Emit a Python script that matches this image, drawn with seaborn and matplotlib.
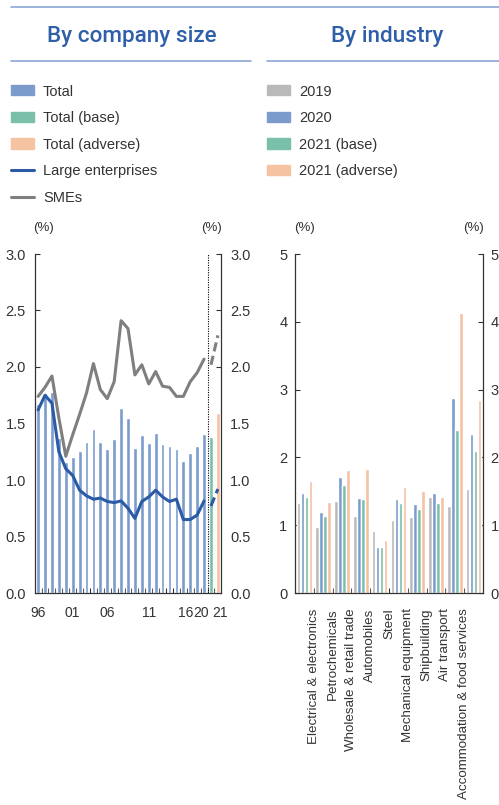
import numpy as np
import pandas as pd
import matplotlib
matplotlib.use("Agg")
import matplotlib.pyplot as plt
import seaborn as sns
from matplotlib.patches import Patch
from matplotlib.lines import Line2D

sns.set_style("ticks")
plt.rcParams["font.family"] = ["Liberation Sans", "DejaVu Sans"]

# ---- data: by company size ----
years = ["96", "97", "98", "99", "00", "01", "02", "03", "04", "05", "06", "07", "08",
         "09", "10", "11", "12", "13", "14", "15", "16", "17", "18", "19", "20"]
total = [1.67, 1.77, 1.78, 1.37, 1.16, 1.20, 1.26, 1.34, 1.45, 1.34, 1.27, 1.36, 1.64,
         1.55, 1.28, 1.40, 1.33, 1.42, 1.32, 1.30, 1.27, 1.17, 1.24, 1.30, 1.41]
total_base = 1.38
total_adverse = 1.59
large = [1.62, 1.75, 1.68, 1.25, 1.10, 1.04, 0.91, 0.86, 0.83, 0.84, 0.81, 0.80, 0.815,
         0.75, 0.66, 0.81, 0.85, 0.91, 0.85, 0.81, 0.83, 0.65, 0.65, 0.69, 0.815]
smes = [1.74, 1.82, 1.92, 1.55, 1.21, 1.40, 1.58, 1.77, 2.03, 1.80, 1.72, 1.87, 2.41,
        2.34, 1.93, 2.02, 1.85, 1.96, 1.83, 1.82, 1.74, 1.74, 1.87, 1.95, 2.07]
large_2021 = [0.77, 0.92]   # base, adverse
smes_2021 = [2.02, 2.28]
size_ticklabels = ["96", "01", "06", "11", "16", "20", "21"]

# ---- data: by industry ----
industry_labels = ["Electrical & electronics", "Petrochemicals", "Wholesale & retail trade",
                   "Automobiles", "Steel", "Mechanical equipment", "Shipbuilding",
                   "Air transport", "Accommodation & food services"]
ind_2019 = [1.33, 0.98, 1.35, 1.13, 0.92, 1.08, 1.12, 1.41, 1.29, 1.54]
ind_2020 = [1.48, 1.19, 1.71, 1.40, 0.68, 1.39, 1.31, 1.48, 2.88, 2.35]
ind_2021_base = [1.41, 1.14, 1.60, 1.38, 0.68, 1.33, 1.24, 1.33, 2.40, 2.10]
ind_2021_adverse = [1.65, 1.34, 1.81, 1.83, 0.78, 1.57, 1.50, 1.41, 4.13, 2.85]
ind_series = ["2019", "2020", "2021 (base)", "2021 (adverse)"]

c_blue = "#7b9bcd"
c_green = "#79bfa9"
c_orange = "#f5c2a2"
c_gray = "#b9b9b9"
c_line_blue = "#2b5ba6"
c_line_gray = "#7f7f7f"
c_title = "#2f5fa9"
c_rule = "#8ca8d6"
c_text = "#333333"

fig = plt.figure(figsize=(4.99, 8.05), dpi=100)
W, H = 499, 805

def fx(px):
    return px / W

def fy(py):
    return 1 - py / H

# ---- left chart ----
axL = fig.add_axes([fx(35), fy(593), fx(221) - fx(35), fy(254) - fy(593)])
n = len(years)
left_df = pd.DataFrame({
    "pos": np.arange(n + 2),
    "value": total + [total_base, total_adverse],
    "series": ["Total"] * n + ["Total (base)", "Total (adverse)"],
})
sns.barplot(data=left_df, x="pos", y="value", hue="series", dodge=False, native_scale=True,
            palette={"Total": c_blue, "Total (base)": c_green, "Total (adverse)": c_orange},
            width=0.55, saturation=1, legend=False, ax=axL)
sns.lineplot(x=np.arange(n), y=smes, color=c_line_gray, lw=2.2, ax=axL)
sns.lineplot(x=np.arange(n), y=large, color=c_line_blue, lw=2.2, ax=axL)
sns.lineplot(x=[n, n + 1], y=smes_2021, color=c_line_gray, lw=2.2, ax=axL)
axL.lines[-1].set_linestyle((0, (3, 1.5)))
sns.lineplot(x=[n, n + 1], y=large_2021, color=c_line_blue, lw=2.2, ax=axL)
axL.lines[-1].set_linestyle((0, (3, 1.5)))
axL.axvline(n - 0.4, color="black", ls=(0, (1, 1.2)), lw=0.8)

axL.set_xlim(-0.45, n + 1.45)
axL.set_ylim(0, 3)
axL.set_yticks(np.arange(0, 3.01, 0.5))
axL.set_yticklabels([f"{v:.1f}" for v in np.arange(0, 3.01, 0.5)])
axL.set_xticks([0, 5, 10, 16, 21.4, 23.6, 26.3])
axL.set_xticklabels(size_ticklabels)
axL.set_xticks(np.arange(0.5, n + 1, 1), minor=True)
axL.tick_params(axis="x", which="major", length=0, pad=9.5, labelsize=10, colors=c_text)
axL.tick_params(axis="x", which="minor", direction="in", length=3.5, width=0.8, color=c_text)
axL.tick_params(axis="y", direction="in", length=3.5, width=0.8, pad=6.5, labelsize=10.5,
                right=True, labelright=True, colors=c_text)
axL.set_xlabel("")
axL.set_ylabel("")
axL.spines["top"].set_visible(False)
for s in ["left", "right", "bottom"]:
    axL.spines[s].set_color(c_text)
    axL.spines[s].set_linewidth(0.9)

# ---- right chart ----
axR = fig.add_axes([fx(295), fy(593), fx(483) - fx(295), fy(254) - fy(593)])
ind_df = pd.DataFrame({
    "group": np.tile(np.arange(len(ind_2019)), 4),
    "value": ind_2019 + ind_2020 + ind_2021_base + ind_2021_adverse,
    "series": np.repeat(ind_series, len(ind_2019)),
})
sns.barplot(data=ind_df, x="group", y="value", hue="series", hue_order=ind_series,
            palette=[c_gray, c_blue, c_green, c_orange], width=0.86, gap=0.12,
            saturation=1, legend=False, ax=axR)
axR.set_xlim(-0.5, len(ind_2019) - 0.5)
axR.set_ylim(0, 5)
axR.set_yticks(range(0, 6))
axR.set_xticks(np.arange(0.5, len(industry_labels), 1))
axR.set_xticklabels(industry_labels, rotation=90, va="top", ha="center")
axR.tick_params(axis="x", direction="in", length=3.5, width=0.8, pad=11, labelsize=9.6,
                colors=c_text)
axR.tick_params(axis="y", direction="in", length=3.5, width=0.8, pad=5.5, labelsize=10.5,
                right=True, labelright=True, colors=c_text)
axR.set_xlabel("")
axR.set_ylabel("")
axR.spines["top"].set_visible(False)
for s in ["left", "right", "bottom"]:
    axR.spines[s].set_color(c_text)
    axR.spines[s].set_linewidth(0.9)

# ---- headers and rules ----
fig.add_artist(Line2D([fx(11), 1], [fy(7.5), fy(7.5)], color=c_rule, lw=1.2))
fig.add_artist(Line2D([fx(11), fx(251)], [fy(61), fy(61)], color=c_rule, lw=1.2))
fig.add_artist(Line2D([fx(267), 1], [fy(61), fy(61)], color=c_rule, lw=1.2))
fig.text(fx(131.5), fy(41.7), "By company size", ha="center", va="baseline",
         color=c_title, fontsize=16.2, family=["Roboto", "Liberation Sans"], fontweight="medium")
fig.text(fx(386.7), fy(41.7), "By industry", ha="center", va="baseline",
         color=c_title, fontsize=16.2, family=["Roboto", "Liberation Sans"], fontweight="medium")

for xp in [43.5, 212, 304.3, 473.3]:
    fig.text(fx(xp), fy(228), "(%)", ha="center", va="center", fontsize=9.5, color=c_text)

# ---- legends ----
left_handles = [Patch(color=c_blue), Patch(color=c_green), Patch(color=c_orange),
                Line2D([], [], color=c_line_blue, lw=2.2), Line2D([], [], color=c_line_gray, lw=2.2)]
left_labels = ["Total", "Total (base)", "Total (adverse)", "Large enterprises", "SMEs"]
leg_kw = dict(loc="upper left", frameon=False, fontsize=10.5, handlelength=1.6,
              handleheight=0.7, handletextpad=0.6, labelspacing=0.86, borderpad=0,
              borderaxespad=0, labelcolor=c_text)
fig.legend(left_handles, left_labels, bbox_to_anchor=(fx(11), fy(84.5)), **leg_kw)
right_handles = [Patch(color=c) for c in [c_gray, c_blue, c_green, c_orange]]
fig.legend(right_handles, ind_series, bbox_to_anchor=(fx(267), fy(84.5)), **leg_kw)

fig.savefig("out.png", dpi=100)
